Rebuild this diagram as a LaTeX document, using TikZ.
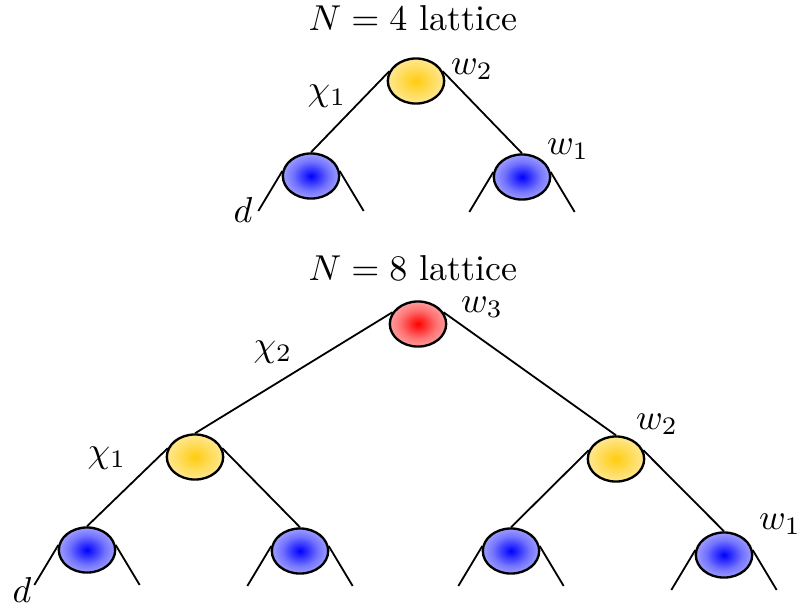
\documentclass[tikz,border=0pt]{standalone}
\usepackage{tikz}
\usetikzlibrary{shapes.geometric, calc}
\usepackage{xcolor}
\definecolor{SiteBlue}{HTML}{0000FF}
\definecolor{SiteGold}{HTML}{FFCC10}
\definecolor{SiteRed}{HTML}{FF0000}
\pgfdeclareradialshading{blueglow}{\pgfpoint{0bp}{0bp}}{color(0bp)=(SiteBlue); color(16bp)=(SiteBlue!55!white); color(38bp)=(SiteBlue!15!white); color(50bp)=(SiteBlue!6!white)}
\pgfdeclareradialshading{goldglow}{\pgfpoint{0bp}{0bp}}{color(0bp)=(SiteGold); color(16bp)=(SiteGold!65!white); color(38bp)=(SiteGold!20!white); color(50bp)=(SiteGold!8!white)}
\pgfdeclareradialshading{redglow}{\pgfpoint{0bp}{0bp}}{color(0bp)=(SiteRed); color(16bp)=(SiteRed!55!white); color(38bp)=(SiteRed!15!white); color(50bp)=(SiteRed!6!white)}

\begin{document}
\begin{tikzpicture}[x=0.976cm, y=-0.976cm, line width=0.5pt]
    \tikzstyle{site} = [ellipse, draw, line width=0.65pt, minimum width=0.55cm, minimum height=0.44cm, inner sep=0pt]
    \tikzstyle{disent} = [site, shading=blueglow]
    \tikzstyle{iso} = [site, shading=goldglow]
    \tikzstyle{top} = [site, shading=redglow]
    \tikzstyle{lbl} = [inner sep=0pt]

    \useasboundingbox (0,0) rectangle (8.03,6.06);

    % N = 4
    \node [lbl] (title4) at (4.13,0.18) {$N=4$ lattice};
    \node [iso] (a0) at (4.16,0.81) {};
    \node [disent] (a1) at (3.11,1.76) {};
    \node [disent] (a2) at (5.22,1.77) {};
    \draw (a0.160) -- (a1.north);
    \draw (a0.20) -- (a2.north);

    \node [lbl] (aw2) at (4.72,0.69) {$w_2$};
    \node [lbl] (achi1) at (3.27,0.96) {$\chi_1$};
    \node [lbl] (aw1) at (5.68,1.49) {$w_1$};
    \node [lbl] (ad) at (2.43,2.10) {$d$};

    % N = 8
    \node [lbl] (title8) at (4.13,2.68) {$N=8$ lattice};
    \node [top] (b0) at (4.18,3.24) {};
    \node [iso] (bl) at (1.95,4.57) {};
    \node [iso] (br) at (6.16,4.59) {};
    \node [disent] (b1) at (0.87,5.50) {};
    \node [disent] (b2) at (3.00,5.51) {};
    \node [disent] (b3) at (5.11,5.51) {};
    \node [disent] (b4) at (7.24,5.55) {};
    \draw (b0.155) -- (bl.north);
    \draw (b0.25) -- (br.north);
    \draw (bl.162) -- (b1.north);
    \draw (bl.18) -- (b2.north);
    \draw (br.162) -- (b3.north);
    \draw (br.18) -- (b4.north);

    \node [lbl] (bw3) at (4.82,3.07) {$w_3$};
    \node [lbl] (bchi2) at (2.73,3.52) {$\chi_2$};
    \node [lbl] (bw2) at (6.57,4.24) {$w_2$};
    \node [lbl] (bchi1) at (1.07,4.58) {$\chi_1$};
    \node [lbl] (bw1) at (7.80,5.24) {$w_1$};
    \node [lbl] (bd) at (0.22,5.90) {$d$};

    % open legs
    \foreach \n in {a1,a2,b1,b2,b3,b4} {
        \coordinate (\n-l) at ([shift={(-0.24,0.40)}]\n.170);
        \coordinate (\n-r) at ([shift={(0.24,0.40)}]\n.10);
        \draw (\n.170) -- (\n-l);
        \draw (\n.10) -- (\n-r);
    }
\end{tikzpicture}
\end{document}
